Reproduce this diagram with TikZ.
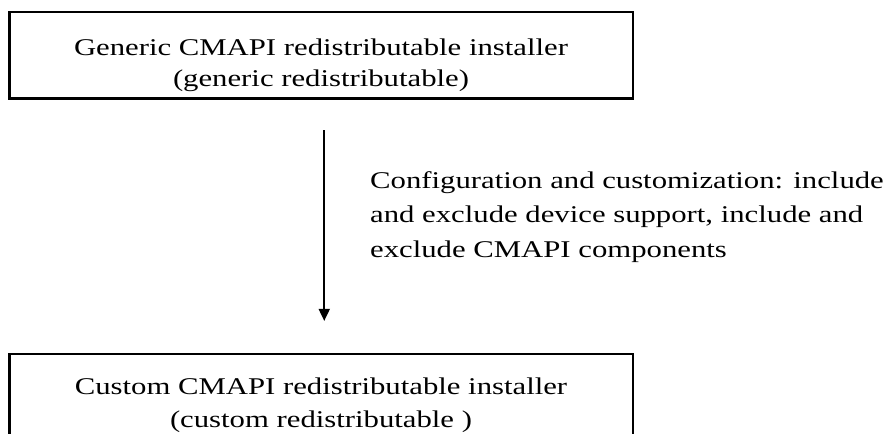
\documentclass[tikz,border=0pt]{standalone}
\usepackage{fontspec}
\setmainfont[FakeStretch=1.28]{Liberation Serif}
\usetikzlibrary{arrows.meta}
\begin{document}
\begin{tikzpicture}[x=1bp,y=-1bp,
  boxshape/.style={draw=black, line width=2.2bp, rectangle, inner sep=0pt},
  txt/.style={inner sep=0pt, font=\fontsize{24bp}{30bp}\selectfont, anchor=base},
  lbl/.style={inner sep=0pt, font=\fontsize{24bp}{30bp}\selectfont, anchor=base west},
  arr/.style={draw=black, line width=1.8bp, -{Triangle[width=11bp,length=12bp]}}
]
\useasboundingbox (0,0) rectangle (890,434);
\clip (0,0) rectangle (890,434);
% boxes
\node[boxshape, minimum width=623.5bp, minimum height=86.5bp] (top) at (321.25,55.25) {};
\node[boxshape, minimum width=623.5bp, minimum height=130bp] (bot) at (321.25,419) {};
% box texts
\node[txt] (top1) at (321,56) {Generic CMAPI redistributable installer};
\node[txt] (top2) at (321,87) {(generic redistributable)};
\node[txt] (bot1) at (321,394) {Custom CMAPI redistributable installer};
\node[txt] (bot2) at (321,427) {(custom redistributable )};
% connector
\draw[arr, shorten <=30.5bp, shorten >=32bp] ([xshift=3bp]top.south) -- ([xshift=3bp]bot.north);
% label
\node[lbl] (l1) at (370,189) {Configuration and customization: include};
\node[lbl] (l2) at (370,223) {and exclude device support, include and};
\node[lbl] (l3) at (370,258) {exclude CMAPI components};
\end{tikzpicture}
\end{document}
